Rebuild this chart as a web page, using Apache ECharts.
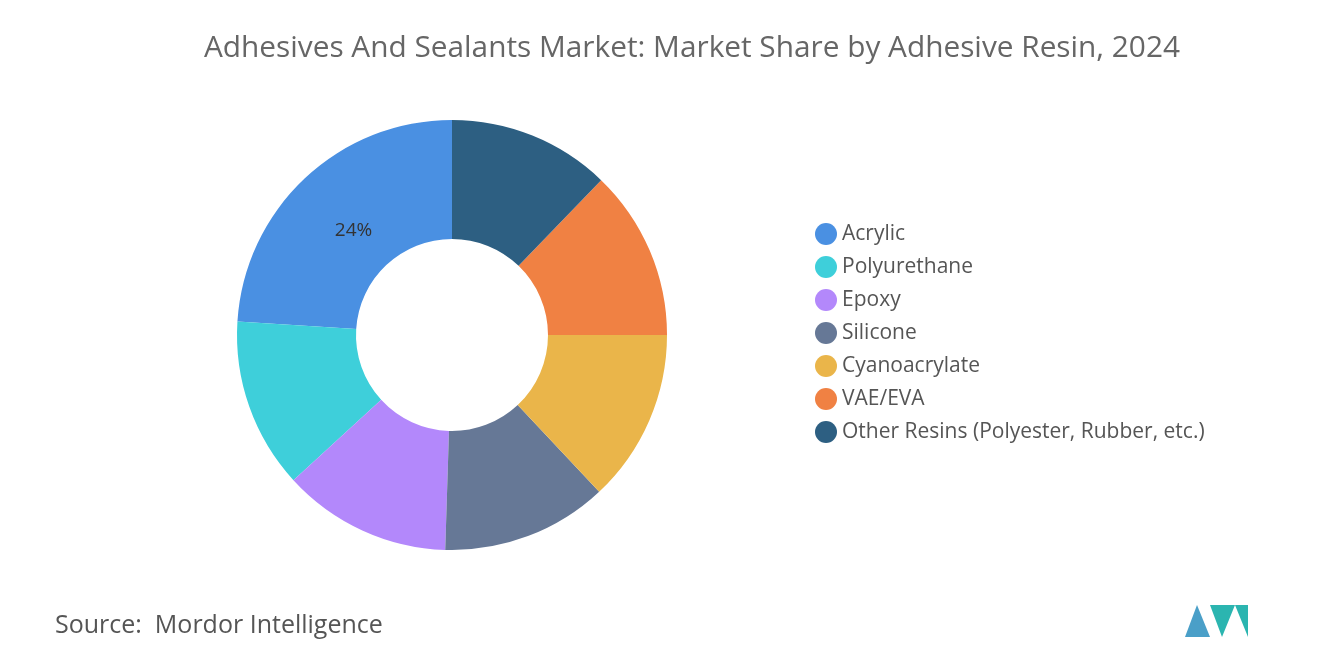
<!DOCTYPE html><html><head><meta charset="utf-8"><script src="https://cdn.jsdelivr.net/npm/echarts@6/dist/echarts.min.js"></script>
<style>html,body{margin:0;padding:0;background:#fff}#c{width:1320px;height:665px}</style></head><body><div id="c"></div><script>
const categories=["Acrylic","Polyurethane","Epoxy","Silicone","Cyanoacrylate","VAE/EVA","Other Resins (Polyester, Rubber, etc.)"];
const values=[24,12.8,12.7,12.5,13,12.8,12.2];
const colors=["#4a90e2","#3ecfda","#b388fb","#667896","#eab54a","#f08143","#2d5f82"];
const chart=echarts.init(document.getElementById('c'));
chart.setOption({
 title:{text:"Adhesives And Sealants Market: Market Share by Adhesive Resin, 2024",left:199,top:29,textStyle:{fontFamily:'Open Sans',fontSize:29.8,fontWeight:'normal',color:'#666'}},
 legend:{orient:'vertical',left:810,top:218,icon:'circle',itemWidth:22,itemHeight:22,itemGap:11,textStyle:{fontFamily:'Open Sans',fontSize:21,color:'#555'},data:categories},
 graphic:[{type:'text',left:55,top:613,style:{text:'Source:  Mordor Intelligence',font:'25px "Open Sans"',fill:'#555'}},
  {type:'polygon',shape:{points:[[1185,637],[1197,605],[1210,637]]},style:{fill:'#4a9fc8'}},
  {type:'polygon',shape:{points:[[1210,605],[1222,637],[1235,605],[1248,637],[1248,605]]},style:{fill:'#2bb5b0'}}],
 series:[{type:'pie',center:[452,335],radius:[96,215],startAngle:90,clockwise:false,label:{show:false},labelLine:{show:false},
  data:categories.map((n,i)=>({name:n,value:values[i],itemStyle:{color:colors[i]},label:i===0?{show:true,position:'inside',formatter:'{c}%',fontFamily:'Open Sans',fontSize:19,color:'#333',offset:[10,11]}:undefined}))}]
});
</script></body></html>
